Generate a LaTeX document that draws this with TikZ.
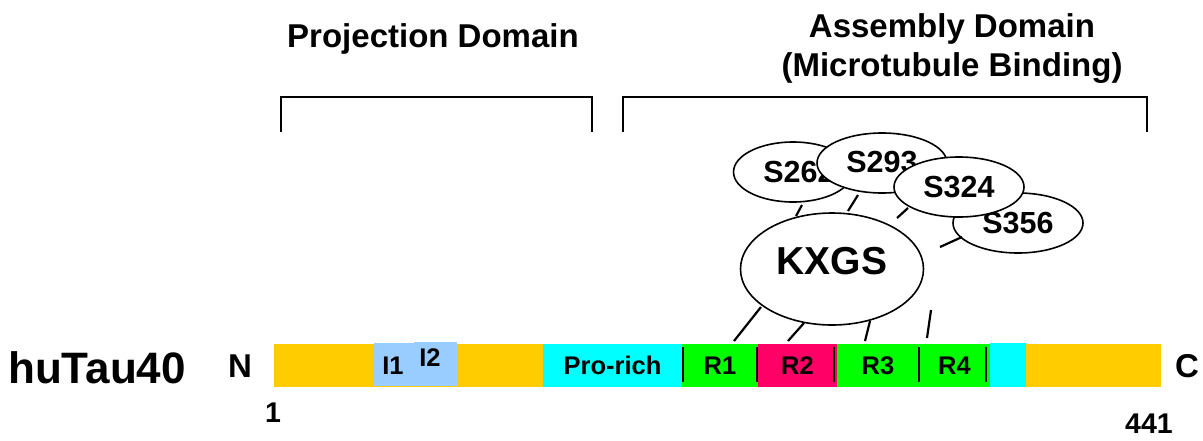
\documentclass[tikz,border=0pt]{standalone}
\usepackage{fontspec}
\setmainfont{Liberation Sans}
\usetikzlibrary{shapes.geometric,positioning}
\definecolor{tauorange}{HTML}{FFCC00}
\definecolor{insblue}{HTML}{99CCFF}
\definecolor{procyan}{HTML}{00FFFF}
\definecolor{rgreen}{HTML}{00FF00}
\definecolor{rpink}{HTML}{FF0066}

\begin{document}
\begin{tikzpicture}[
    x=1pt, y=-1pt,
    seg/.style={
        rectangle, inner sep=0pt, minimum height=43pt,
        font=\bfseries\fontsize{25.5}{25.5}\selectfont
    },
    site/.style={
        ellipse, draw, fill=white, line width=1.6pt, inner sep=0pt,
        minimum width=130pt, minimum height=60pt,
        font=\bfseries\fontsize{30.5}{30.5}\selectfont
    },
    title/.style={font=\bfseries\fontsize{33}{39}\selectfont, align=center},
    endlabel/.style={font=\bfseries\fontsize{33}{33}\selectfont},
    poslabel/.style={font=\bfseries\fontsize{28.5}{28.5}\selectfont},
    bracket/.style={line width=2pt},
    tickline/.style={line width=2.2pt},
    divider/.style={line width=1.6pt},
]
\useasboundingbox (0,0) rectangle (1203,440);

% domain titles and brackets
\node[title] (proj) at (433,39) {Projection Domain};
\node[title] (asm) at (952,49) {Assembly Domain\\(Microtubule Binding)};
\draw[bracket] (281,132) |- (592,97) -- (592,132);
\draw[bracket] (623,132) |- (1147,97) -- (1147,132);

% the protein bar
\node[font=\bfseries\fontsize{44}{44}\selectfont] (name) at (97,368) {huTau40};
\node[endlabel] (nterm) at (240,366) {N};
\node[endlabel] (cterm) at (1187,366) {C};
\node[poslabel] (first) at (273,413) {1};
\node[poslabel] (last) at (1149,424) {441};

\node[seg, fill=tauorange, minimum width=269pt] (proj1) at (408.5,365.5) {};
\node[seg, fill=insblue, minimum width=40pt] (ins1) at (394,364.5) {};
\node[seg, fill=insblue, minimum width=43pt, minimum height=44pt] (ins2) at (435.5,364) {};
\node[seg] at (393,366) {I1};
\node[seg] at (430,358) {I2};
\node[seg, fill=procyan, minimum width=139pt] (pro) at (612.5,365.5) {Pro-rich};
\node[seg, fill=rgreen, minimum width=76pt] (r1) at (720,365.5) {R1};
\node[seg, fill=rpink, minimum width=79pt] (r2) at (797.5,365.5) {R2};
\node[seg, fill=rgreen, minimum width=82pt] (r3) at (878,365.5) {R3};
\node[seg, fill=rgreen, minimum width=71pt] (r4) at (954.5,365.5) {R4};
\node[seg, fill=procyan, minimum width=36pt, minimum height=44pt] (tail) at (1008,365) {};
\node[seg, fill=tauorange, minimum width=135pt] (proj2) at (1093.5,365.5) {};

\foreach \x in {683,757,834,919,986}
    \draw[divider] (\x,347) -- (\x,382);

% phosphorylation sites
\node[site, minimum width=119pt] (s262) at (793,172) {\hspace*{12pt}S262};
\node[site] (s356) at (1018,223) {S356};
\node[site] (s293) at (882,163) {\raisebox{2pt}{S293}};
\node[site] (s324) at (959,187) {S324};
\node[site, minimum width=183pt, minimum height=112pt] (kxgs) at (832,269) {};
\node[font=\bfseries\fontsize{39}{39}\selectfont] at (832,261) {KXGS};

\draw[tickline] (802,205) -- (796,216);
\draw[tickline] (858,195) -- (848,211);
\draw[tickline] (908,208) -- (897,218);
\draw[tickline] (962,237) -- (940,247);

\draw[tickline] (761,307) -- (734,341);
\draw[tickline] (804,323) -- (788,341);
\draw[tickline] (870,321) -- (865,341);
\draw[tickline] (931,310) -- (927,338);
\end{tikzpicture}
\end{document}
